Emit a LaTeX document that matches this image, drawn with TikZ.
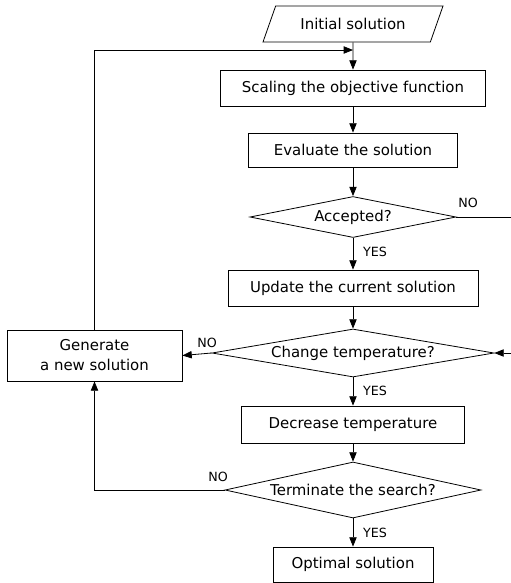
\documentclass[tikz,border=0pt]{standalone}
\usepackage{fontspec}
\setmainfont{DejaVu Sans}
\usepackage{xcolor}
\usepackage{tikz}
\usetikzlibrary{shapes.geometric}
\usetikzlibrary{arrows.meta}

\tikzset{
  flow/.style={-{Triangle[length=7pt,width=5.5pt]}},
  procbox/.style={draw, rectangle, inner sep=0.75pt, font=\fontsize{11.2}{15}\selectfont, align=center},
  askbox/.style={draw, diamond, inner sep=0pt, font=\fontsize{11.2}{13}\selectfont},
  iobox/.style={draw, trapezium, trapezium left angle=47, trapezium right angle=133, trapezium stretches body, inner sep=0.75pt, font=\fontsize{11.2}{13}\selectfont},
  answer/.style={inner sep=0.75pt, font=\fontsize{9.5}{11}\selectfont}
}

\begin{document}
\begin{tikzpicture}[x=0.75pt,y=0.75pt,yscale=-1,xscale=1, line width=0.6pt]
		\useasboundingbox (0,0) rectangle (511,583);
		
		%Shape: Parallelogram [id:init]
		\node [iobox, minimum width=135pt, minimum height=27pt] (init) at (353,24) {Initial solution};
		%Shape: Rectangle [id:scale]
		\node [procbox, minimum width=198.75pt, minimum height=27pt] (scale) at (353,88) {Scaling the objective function};
		%Shape: Rectangle [id:eval]
		\node [procbox, minimum width=156.75pt, minimum height=25.5pt] (eval) at (353,150) {Evaluate the solution};
		%Shape: Diamond [id:acc]
		\node [askbox, minimum width=154.5pt, minimum height=30.75pt, shape aspect=5] (acc) at (353,217) {Accepted?};
		%Shape: Rectangle [id:upd]
		\node [procbox, minimum width=187.5pt, minimum height=27pt] (upd) at (353,288) {Update the current solution};
		%Shape: Diamond [id:chg]
		\node [askbox, minimum width=211.5pt, minimum height=36pt, shape aspect=5.9] (chg) at (353,353) {Change temperature?};
		%Shape: Rectangle [id:gen]
		\node [procbox, minimum width=131.25pt, minimum height=38.25pt] (gen) at (94.5,355.5) {Generate\\a new solution};
		%Shape: Rectangle [id:dec]
		\node [procbox, minimum width=167.25pt, minimum height=27.75pt] (dec) at (353,424.5) {Decrease temperature};
		%Shape: Diamond [id:term]
		\node [askbox, minimum width=192pt, minimum height=42pt, shape aspect=4.6] (term) at (353,490) {Terminate the search?};
		%Shape: Rectangle [id:opt]
		\node [procbox, minimum width=120pt, minimum height=26.25pt] (opt) at (353,564.5) {Optimal solution};
		
		\coordinate (join) at (353,50);
		\coordinate (rimA) at (511,217);
		\coordinate (rimB) at (511,353);
		
		%Straight Lines [id:main flow]
		\draw [flow] (init) -- (scale);
		\draw [flow] (scale) -- (eval);
		\draw [flow] (eval) -- (acc);
		\draw [flow] (acc) -- (upd);
		\draw [flow] (upd) -- (chg);
		\draw [flow] (chg) -- (dec);
		\draw [flow] (dec) -- (term);
		\draw [flow] (term) -- (opt);
		%Straight Lines [id:loops]
		\draw [flow] (gen.north) |- (join);
		\draw [flow] (chg.west) -- (gen.east);
		\draw [flow] (term.west) -| (gen.south);
		\draw (acc.east) -- (rimA);
		\draw [flow] (rimB) -- (chg.east);
		
		% Text Node
		\node [answer] (yesA) at (375,252) {YES};
		% Text Node
		\node [answer] (yesB) at (375,391) {YES};
		% Text Node
		\node [answer] (yesC) at (375,533) {YES};
		% Text Node
		\node [answer] (noA) at (468,203) {NO};
		% Text Node
		\node [answer] (noB) at (207,343) {NO};
		% Text Node
		\node [answer] (noC) at (218,477) {NO};
		
\end{tikzpicture}
\end{document}
